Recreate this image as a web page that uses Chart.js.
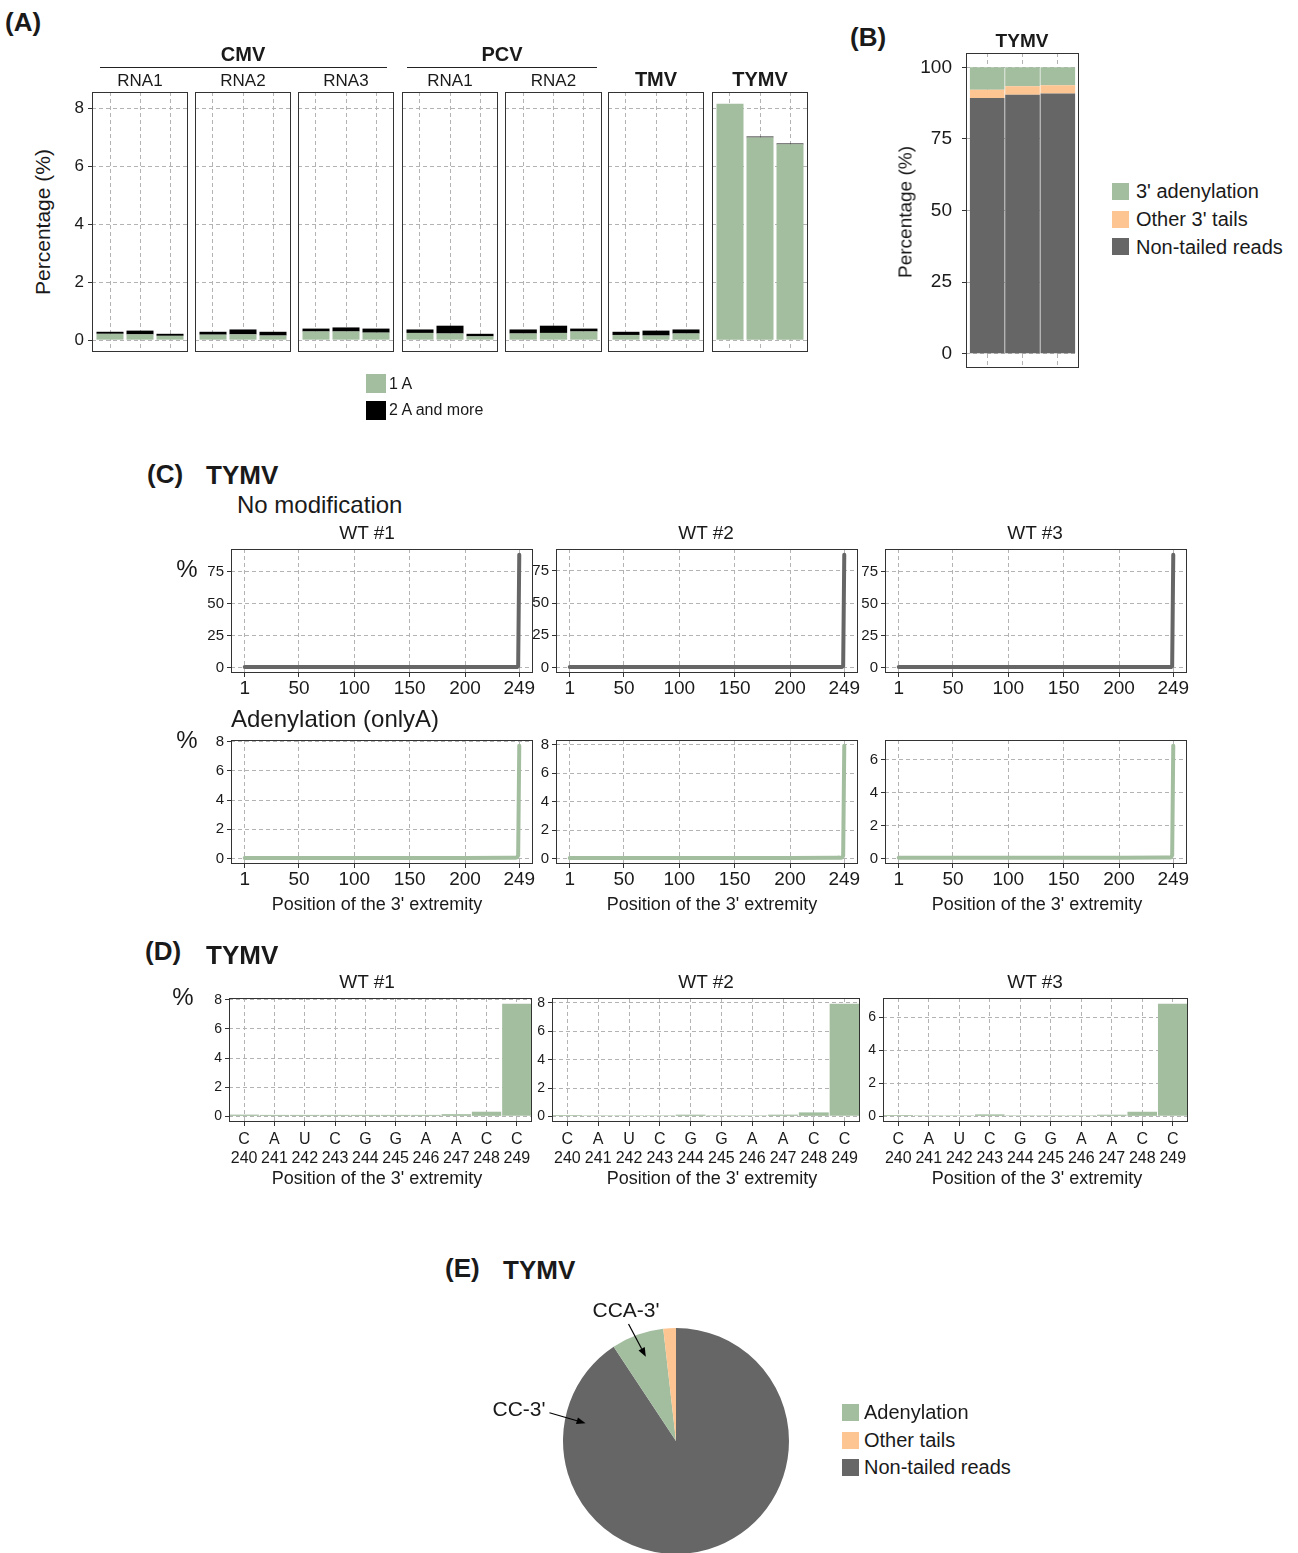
<!DOCTYPE html>
<html>
<head>
<meta charset="utf-8">
<script src="https://cdn.jsdelivr.net/npm/chart.js@4"></script>
<style>
html, body { margin: 0; padding: 0; background: #fff; overflow: hidden; }
#fig { position: relative; width: 1298px; height: 1553px; overflow: hidden;
       font-family: "Liberation Sans", Arial, sans-serif; color: #1a1a1a; }
.cw { position: absolute; }
.t { position: absolute; white-space: nowrap; line-height: 1; }
.sq { position: absolute; }
</style>
</head>
<body>
<div id="fig"></div>
<script>
// ---- values ----
// (A) % of 3' adenylated reads, 3 replicates per RNA
const aPanels = ['CMV RNA1', 'CMV RNA2', 'CMV RNA3', 'PCV RNA1', 'PCV RNA2', 'TMV', 'TYMV'];
const aReps = [1, 2, 3];
const aOneA = [
  [0.22, 0.20, 0.15],
  [0.19, 0.20, 0.16],
  [0.30, 0.30, 0.26],
  [0.25, 0.23, 0.13],
  [0.23, 0.25, 0.30],
  [0.18, 0.16, 0.23],
  [8.16, 7.00, 6.76]
];
const aTwoAMore = [
  [0.07, 0.13, 0.07],
  [0.10, 0.17, 0.13],
  [0.10, 0.14, 0.14],
  [0.12, 0.27, 0.09],
  [0.14, 0.25, 0.10],
  [0.11, 0.17, 0.14],
  [0.00, 0.03, 0.03]
];
const aTicks = [0, 2, 4, 6, 8];

// (B) TYMV read composition
const bReps = [1, 2, 3];
const bNonTailed = [89.3, 90.4, 90.9];
const bOtherTails = [2.9, 3.0, 2.8];
const bAdenylation = [7.8, 6.6, 6.3];
const bTicks = [0, 25, 50, 75, 100];

// (C) position of the 3' end along TYMV RNA
const wtNames = ['WT #1', 'WT #2', 'WT #3'];
const cPositions = [1, 50, 100, 150, 200, 240, 241, 242, 243, 244, 245, 246, 247, 248, 249];
const cNoMod = [
  [0.2, 0.2, 0.2, 0.2, 0.2, 0.2, 0.2, 0.2, 0.2, 0.2, 0.2, 0.2, 0.3, 0.9, 88.6],
  [0.2, 0.2, 0.2, 0.2, 0.2, 0.2, 0.2, 0.2, 0.2, 0.2, 0.2, 0.2, 0.3, 0.9, 87.6],
  [0.2, 0.2, 0.2, 0.2, 0.2, 0.2, 0.2, 0.2, 0.2, 0.2, 0.2, 0.2, 0.3, 0.9, 88.3]
];
const cAden = [
  [0.03, 0.03, 0.03, 0.03, 0.03, 0.05, 0.05, 0.05, 0.05, 0.05, 0.05, 0.05, 0.07, 0.20, 7.73],
  [0.03, 0.03, 0.03, 0.03, 0.03, 0.05, 0.05, 0.05, 0.05, 0.06, 0.05, 0.05, 0.06, 0.18, 7.95],
  [0.03, 0.03, 0.03, 0.03, 0.03, 0.05, 0.05, 0.05, 0.06, 0.05, 0.05, 0.05, 0.06, 0.18, 6.84]
];
const cPosTicks = [1, 50, 100, 150, 200, 249];
const cNoModTicks = [0, 25, 50, 75];
const cAdenTicks = [[0, 2, 4, 6, 8], [0, 2, 4, 6, 8], [0, 2, 4, 6]];

// (D) adenylation at the last 10 nucleotides
const dBases = ['C', 'A', 'U', 'C', 'G', 'G', 'A', 'A', 'C', 'C'];
const dPositions = [240, 241, 242, 243, 244, 245, 246, 247, 248, 249];
const dAden = [
  [0.12, 0.10, 0.10, 0.10, 0.10, 0.10, 0.10, 0.15, 0.32, 7.73],
  [0.09, 0.07, 0.07, 0.07, 0.12, 0.07, 0.07, 0.12, 0.28, 7.95],
  [0.08, 0.06, 0.06, 0.12, 0.06, 0.06, 0.06, 0.10, 0.28, 6.84]
];
const dTicks = [[0, 2, 4, 6, 8], [0, 2, 4, 6, 8], [0, 2, 4, 6]];

// (E) pie
const eLabels = ['Non-tailed reads', 'Adenylation', 'Other tails'];
const eValues = [90.7, 7.5, 1.8];

// ---- styling ----
const GREEN = '#a3bd9f';
const ORANGE = '#fdc591';
const DARK = '#666666';
const GRID = '#b3b3b3';
const TXT = '#1a1a1a';
const PAD = {left: 6, right: 26, top: 30, bottom: 30};

Chart.defaults.font.family = '"Liberation Sans", Arial, sans-serif';
Chart.defaults.color = TXT;

const fig = document.getElementById('fig');

// canvas whose chart area lands exactly on box = [left, top, right, bottom]
function mount(box, axL, axB) {
  const d = document.createElement('div');
  d.className = 'cw';
  const w = box[2] - box[0] + axL + PAD.left + PAD.right;
  const h = box[3] - box[1] + axB + PAD.top + PAD.bottom;
  d.style.left = (box[0] - axL - PAD.left) + 'px';
  d.style.top = (box[1] - PAD.top) + 'px';
  const c = document.createElement('canvas');
  c.width = w; c.height = h;
  c.style.width = w + 'px'; c.style.height = h + 'px';
  d.appendChild(c);
  fig.appendChild(d);
  return c;
}

const frame = {
  id: 'frame',
  afterDraw(chart) {
    const {ctx, chartArea: a} = chart;
    ctx.save();
    ctx.strokeStyle = '#333';
    ctx.lineWidth = 1;
    ctx.strokeRect(Math.round(a.left) + 0.5, Math.round(a.top) + 0.5,
      Math.round(a.right - a.left) - 1, Math.round(a.bottom - a.top) - 1);
    ctx.restore();
  }
};

function yAxis(o) {
  return {
    type: 'linear', min: o.min, max: o.max, stacked: !!o.stacked,
    afterBuildTicks: s => { s.ticks = o.ticks.map(v => ({value: v})); },
    afterFit: s => { s.width = o.w; },
    grid: {color: GRID, lineWidth: 1, drawTicks: o.labels, tickLength: 4,
           tickColor: '#333', tickWidth: 1, tickBorderDash: []},
    border: {display: false, dash: [4, 3]},
    ticks: {display: o.labels, font: {size: o.size}, color: TXT, padding: o.pad,
            callback: v => String(v)}
  };
}

function xAxis(o) {
  return {
    type: 'linear', min: o.min, max: o.max, stacked: !!o.stacked, offset: false,
    afterBuildTicks: s => { s.ticks = o.ticks.map(v => ({value: v})); },
    afterFit: s => { s.height = o.h; },
    grid: {color: GRID, lineWidth: 1, offset: false, drawTicks: o.labels, tickLength: 4,
           tickColor: '#333', tickWidth: 1, tickBorderDash: []},
    border: {display: false, dash: [4, 3]},
    ticks: {display: o.labels, font: {size: o.size || 12}, color: TXT, padding: 0,
            autoSkip: false, maxRotation: 0, callback: v => String(v)}
  };
}

function base(scales) {
  return {
    responsive: false, animation: false,
    layout: {padding: PAD},
    plugins: {legend: {display: false}, tooltip: {enabled: false}},
    scales
  };
}

const expand = (lo, hi) => [lo - 0.05 * (hi - lo), hi + 0.05 * (hi - lo)];

// ---- (A) ----
const aBoxes = [[92, 188], [195, 291], [298, 394], [402, 498], [505, 602], [608, 704], [712, 808]];
const aTotals = aOneA.flatMap((r, i) => r.map((v, j) => v + aTwoAMore[i][j]));
const aRange = expand(0, Math.max(...aTotals));
aPanels.forEach((name, i) => {
  const first = i === 0;
  const axL = first ? 24 : 0;
  const cv = mount([aBoxes[i][0], 92, aBoxes[i][1], 352], axL, 0);
  new Chart(cv, {
    type: 'bar',
    data: {datasets: [
      {label: '1 A', data: aReps.map((r, j) => ({x: r, y: aOneA[i][j]})),
       backgroundColor: GREEN, barPercentage: 0.9, categoryPercentage: 1, borderWidth: 0},
      {label: '2 A and more', data: aReps.map((r, j) => ({x: r, y: aTwoAMore[i][j]})),
       backgroundColor: '#000', barPercentage: 0.9, categoryPercentage: 1, borderWidth: 0}
    ]},
    options: base({
      x: xAxis({min: 0.4, max: 3.6, ticks: aReps, h: 0, labels: false, stacked: true}),
      y: yAxis({min: aRange[0], max: aRange[1], ticks: aTicks, w: axL, size: 17,
                labels: first, stacked: true, pad: 4})
    }),
    plugins: [frame]
  });
});

// ---- (B) ----
{
  const cv = mount([966, 53, 1079, 368], 52, 0);
  const mk = (label, vals, col) => ({label, data: bReps.map((r, j) => ({x: r, y: vals[j]})),
    backgroundColor: col, barPercentage: 0.98, categoryPercentage: 1, borderWidth: 0});
  new Chart(cv, {
    type: 'bar',
    data: {datasets: [
      mk('Non-tailed reads', bNonTailed, DARK),
      mk("Other 3' tails", bOtherTails, ORANGE),
      mk("3' adenylation", bAdenylation, GREEN)
    ]},
    options: base({
      x: xAxis({min: 0.4, max: 3.6, ticks: bReps, h: 0, labels: false, stacked: true}),
      y: yAxis({min: -5, max: 105, ticks: bTicks, w: 52, size: 19, labels: true, stacked: true, pad: 10})
    }),
    plugins: [frame]
  });
}

// ---- (C) ----
const cCols = [[231, 533], [556, 858], [885, 1187]];
const cX = expand(cPositions[0], cPositions[cPositions.length - 1]);
function cLine(k, top, bottom, vals, ticks, color) {
  const cv = mount([cCols[k][0], top, cCols[k][1], bottom], 30, 28);
  const r = expand(0, Math.max(...vals));
  new Chart(cv, {
    type: 'line',
    data: {datasets: [{
      data: cPositions.map((p, j) => ({x: p, y: vals[j]})),
      borderColor: color, borderWidth: 4, pointRadius: 0, tension: 0,
      borderJoinStyle: 'round', borderCapStyle: 'round', fill: false
    }]},
    options: base({
      x: xAxis({min: cX[0], max: cX[1], ticks: cPosTicks, h: 28, labels: true, size: 19}),
      y: yAxis({min: r[0], max: r[1], ticks, w: 30, size: 15, labels: true, pad: 3})
    }),
    plugins: [frame]
  });
}
for (let k = 0; k < 3; k++) {
  cLine(k, 549, 673, cNoMod[k], cNoModTicks, DARK);
  cLine(k, 740, 864, cAden[k], cAdenTicks[k], GREEN);
}

// ---- (D) ----
const dCols = [[229, 532], [552, 860], [883, 1188]];
for (let k = 0; k < 3; k++) {
  const cv = mount([dCols[k][0], 998, dCols[k][1], 1122], 26, 44);
  const r = expand(0, Math.max(...dAden[k]));
  new Chart(cv, {
    type: 'bar',
    data: {
      labels: dBases.map((b, j) => [b, String(dPositions[j])]),
      datasets: [{data: dAden[k], backgroundColor: GREEN, borderWidth: 0,
                  barPercentage: 0.97, categoryPercentage: 1}]
    },
    options: base({
      x: {
        type: 'category', offset: true,
        afterFit: s => { s.height = 44; },
        grid: {color: GRID, lineWidth: 1, offset: false, drawTicks: true, tickLength: 4,
               tickColor: '#333', tickWidth: 1, tickBorderDash: []},
        border: {display: false, dash: [4, 3]},
        ticks: {font: {size: 16, lineHeight: 1.2}, color: TXT, padding: 4,
                autoSkip: false, maxRotation: 0}
      },
      y: yAxis({min: r[0], max: r[1], ticks: dTicks[k], w: 26, size: 14, labels: true, pad: 3})
    }),
    plugins: [frame]
  });
}

// ---- (E) ----
{
  const d = document.createElement('div');
  d.className = 'cw';
  d.style.left = '470px'; d.style.top = '1290px';
  const c = document.createElement('canvas');
  c.width = 330; c.height = 264;
  c.style.width = '330px'; c.style.height = '264px';
  d.appendChild(c);
  fig.appendChild(d);

  const arrows = {
    id: 'arrows',
    afterDraw(chart) {
      const arc = chart.getDatasetMeta(0).data[0];
      const cx = arc.x, cy = arc.y, R = arc.outerRadius;
      const ctx = chart.ctx;
      const list = [
        [cx - 0.42 * R, cy - 1.035 * R, cx - 0.267 * R, cy - 0.746 * R],
        [cx - 1.12 * R, cy - 0.25 * R, cx - 0.80 * R, cy - 0.157 * R]
      ];
      ctx.save();
      ctx.strokeStyle = '#000';
      ctx.fillStyle = '#000';
      ctx.lineWidth = 1.2;
      list.forEach(([x1, y1, x2, y2]) => {
        const ang = Math.atan2(y2 - y1, x2 - x1);
        const hl = 9, hw = 3.5;
        const bx = x2 - hl * Math.cos(ang), by = y2 - hl * Math.sin(ang);
        ctx.beginPath(); ctx.moveTo(x1, y1); ctx.lineTo(bx, by); ctx.stroke();
        ctx.beginPath();
        ctx.moveTo(x2, y2);
        ctx.lineTo(bx + hw * Math.sin(ang), by - hw * Math.cos(ang));
        ctx.lineTo(bx - hw * Math.sin(ang), by + hw * Math.cos(ang));
        ctx.closePath(); ctx.fill();
      });
      ctx.restore();
    }
  };

  new Chart(c, {
    type: 'pie',
    data: {labels: eLabels, datasets: [{data: eValues, backgroundColor: [DARK, GREEN, ORANGE], borderWidth: 0}]},
    options: {
      responsive: false, animation: false,
      layout: {padding: {left: 92, right: 10, top: 38, bottom: 0}},
      plugins: {legend: {display: false}, tooltip: {enabled: false}}
    },
    plugins: [arrows]
  });
}

// ---- text ----
function label(text, x, y, size, o = {}) {
  const d = document.createElement('div');
  d.className = 't';
  d.textContent = text;
  d.style.fontSize = size + 'px';
  if (o.bold) d.style.fontWeight = 'bold';
  d.style.left = x + 'px';
  d.style.top = y + 'px';
  const ax = o.left ? '0' : '-50%';
  d.style.transform = 'translate(' + ax + ', -50%)' + (o.rot ? ' rotate(-90deg)' : '');
  fig.appendChild(d);
}
function square(x, y, w, h, col) {
  const d = document.createElement('div');
  d.className = 'sq';
  d.style.cssText = 'left:' + x + 'px;top:' + y + 'px;width:' + w + 'px;height:' + h + 'px;background:' + col;
  fig.appendChild(d);
}
function hline(x1, x2, y) {
  const d = document.createElement('div');
  d.className = 'sq';
  d.style.cssText = 'left:' + x1 + 'px;top:' + y + 'px;width:' + (x2 - x1) + 'px;height:1px;background:#222';
  fig.appendChild(d);
}

// A
label('(A)', 5, 22, 26, {bold: true, left: true});
label('Percentage (%)', 42, 222, 21, {rot: true});
label('CMV', 243, 54, 20, {bold: true});
hline(100, 387, 67);
label('PCV', 502, 54, 20, {bold: true});
hline(407, 597, 67);
const aStrips = ['RNA1', 'RNA2', 'RNA3', 'RNA1', 'RNA2', 'TMV', 'TYMV'];
aStrips.forEach((s, i) => {
  const bold = i >= 5;
  label(s, (aBoxes[i][0] + aBoxes[i][1]) / 2, bold ? 79 : 80, bold ? 20 : 17, {bold});
});
square(366, 374, 20, 19, GREEN);
square(366, 401, 20, 19, '#000');
label('1 A', 389, 384, 16, {left: true});
label('2 A and more', 389, 410, 16, {left: true});

// B
label('(B)', 850, 37, 26, {bold: true, left: true});
label('TYMV', 1022, 40, 19, {bold: true});
label('Percentage (%)', 905, 212, 19, {rot: true});
square(1112, 183, 17, 17, GREEN);
square(1112, 211, 17, 17, ORANGE);
square(1112, 238, 17, 17, DARK);
label("3' adenylation", 1136, 191, 20, {left: true});
label("Other 3' tails", 1136, 219, 20, {left: true});
label('Non-tailed reads', 1136, 247, 20, {left: true});

// C
label('(C)', 147, 474, 26, {bold: true, left: true});
label('TYMV', 206, 475, 26, {bold: true, left: true});
label('No modification', 237, 505, 24, {left: true});
label('Adenylation (onlyA)', 231, 719, 24, {left: true});
label('%', 187, 569, 24);
label('%', 187, 740, 24);
const wtCentres = [367, 706, 1035];
const xtCentres = [377, 712, 1037];
wtNames.forEach((w, k) => {
  label(w, wtCentres[k], 532, 19);
  label("Position of the 3' extremity", xtCentres[k], 904, 18);
});

// D
label('(D)', 145, 951, 26, {bold: true, left: true});
label('TYMV', 206, 955, 26, {bold: true, left: true});
label('%', 183, 997, 24);
wtNames.forEach((w, k) => {
  label(w, wtCentres[k], 981, 19);
  label("Position of the 3' extremity", xtCentres[k], 1178, 18);
});

// E
label('(E)', 445, 1268, 26, {bold: true, left: true});
label('TYMV', 503, 1270, 26, {bold: true, left: true});
label("CCA-3'", 626, 1309, 21);
label("CC-3'", 519, 1408, 21);
square(842, 1404, 17, 17, GREEN);
square(842, 1432, 17, 17, ORANGE);
square(842, 1459, 17, 17, DARK);
label('Adenylation', 864, 1412, 20, {left: true});
label('Other tails', 864, 1440, 20, {left: true});
label('Non-tailed reads', 864, 1467, 20, {left: true});
</script>
</body>
</html>
